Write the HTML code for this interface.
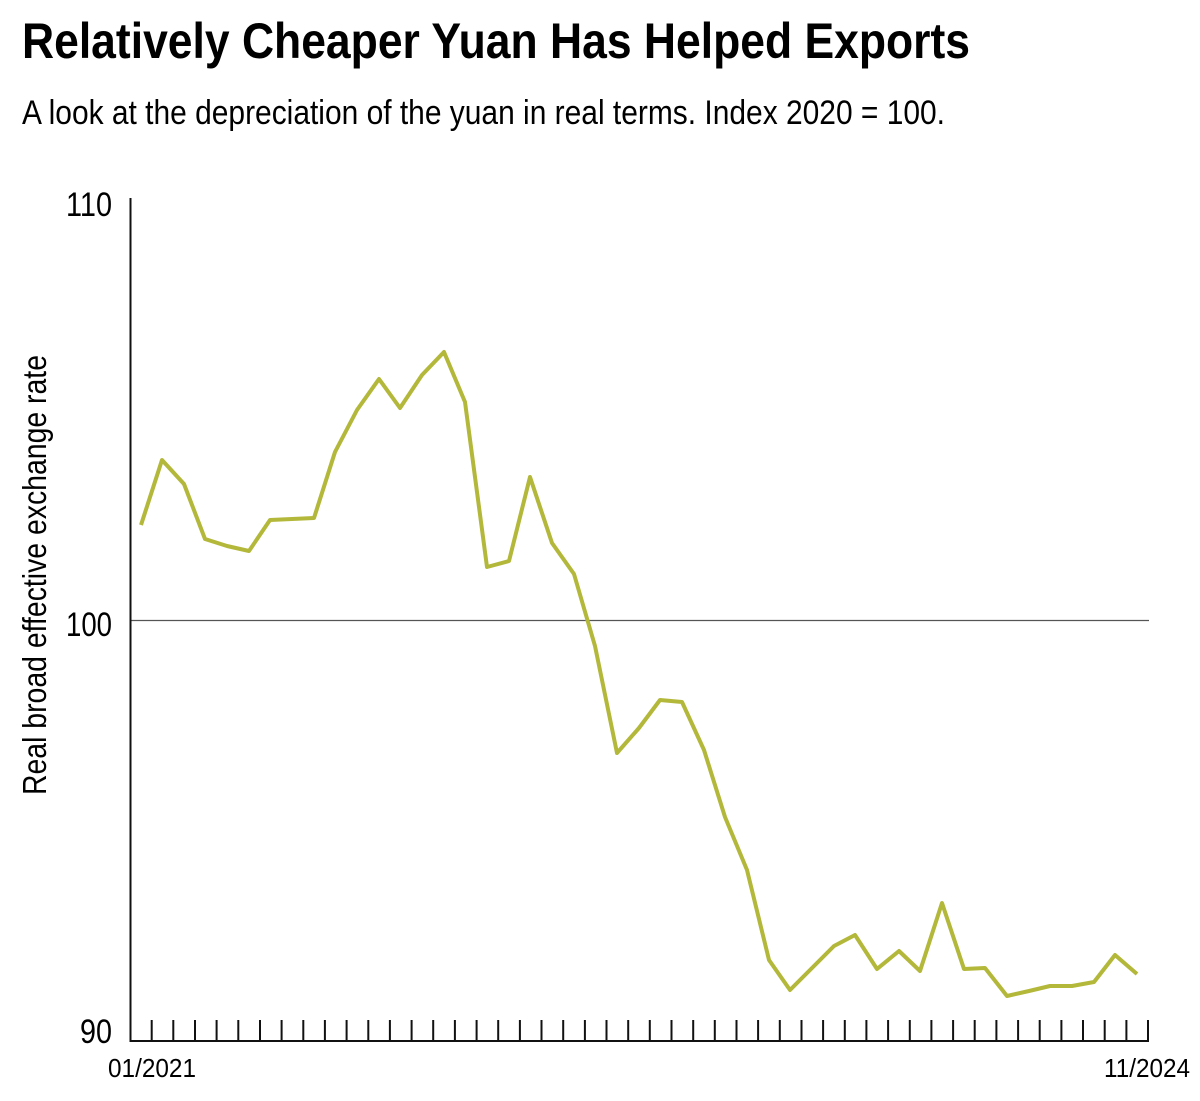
<!DOCTYPE html>
<html><head><style>body{margin:0;background:#fff}svg{display:block}</style></head><body>
<svg width="1200" height="1101" viewBox="0 0 1200 1101" xmlns="http://www.w3.org/2000/svg" font-family="'Liberation Sans', sans-serif">
<text x="22" y="58" font-size="50" font-weight="bold" textLength="948" lengthAdjust="spacingAndGlyphs">Relatively Cheaper Yuan Has Helped Exports</text>
<text x="22" y="124" font-size="34" textLength="923" lengthAdjust="spacingAndGlyphs">A look at the depreciation of the yuan in real terms. Index 2020 = 100.</text>
<line x1="130" y1="620.5" x2="1149" y2="620.5" stroke="#555" stroke-width="1.2"/>
<line x1="130.5" y1="198" x2="130.5" y2="1042" stroke="#111" stroke-width="2"/>
<line x1="130" y1="1041" x2="1149" y2="1041" stroke="#111" stroke-width="2"/>
<g stroke="#111" stroke-width="2" id="ticks"></g>
<text x="112" y="216" font-size="34" text-anchor="end" textLength="46" lengthAdjust="spacingAndGlyphs">110</text>
<text x="112" y="636" font-size="34" text-anchor="end" textLength="46" lengthAdjust="spacingAndGlyphs">100</text>
<text x="112" y="1043" font-size="34" text-anchor="end" textLength="32" lengthAdjust="spacingAndGlyphs">90</text>
<text x="108" y="1077" font-size="26" textLength="88" lengthAdjust="spacingAndGlyphs">01/2021</text>
<text x="1104" y="1077" font-size="26" textLength="86" lengthAdjust="spacingAndGlyphs">11/2024</text>
<text transform="translate(46,795) rotate(-90)" font-size="33" textLength="440" lengthAdjust="spacingAndGlyphs">Real broad effective exchange rate</text>
<polyline fill="none" stroke="#b3b83a" stroke-width="4" stroke-linejoin="round" points="141,525 162,460 184,484 205,539 227,546 249,551 270,520 292,519 314,518 335,452 357,410 379,379 400,408 422,375 444,352 465,402 487,567 509,561 530,477 552,543 574,574 595,646 617,753 639,728 660,700 682,702 704,750 725,817 747,870 769,960 790,990 812,968 834,946 855,935 877,969 899,951 920,971 942,903 964,969 985,968 1007,996 1029,991 1050,986 1072,986 1094,982 1115,955 1137,974"/>
<path stroke="#111" stroke-width="2" d="M151.7 1020V1041M173.3 1020V1041M195 1020V1041M216.6 1020V1041M238.3 1020V1041M260 1020V1041M281.6 1020V1041M303.3 1020V1041M324.9 1020V1041M346.6 1020V1041M368.3 1020V1041M389.9 1020V1041M411.6 1020V1041M433.2 1020V1041M454.9 1020V1041M476.6 1020V1041M498.2 1020V1041M519.9 1020V1041M541.5 1020V1041M563.2 1020V1041M584.9 1020V1041M606.5 1020V1041M628.2 1020V1041M649.8 1020V1041M671.5 1020V1041M693.2 1020V1041M714.8 1020V1041M736.5 1020V1041M758.1 1020V1041M779.8 1020V1041M801.5 1020V1041M823.1 1020V1041M844.8 1020V1041M866.4 1020V1041M888.1 1020V1041M909.8 1020V1041M931.4 1020V1041M953.1 1020V1041M974.7 1020V1041M996.4 1020V1041M1018.1 1020V1041M1039.7 1020V1041M1061.4 1020V1041M1083 1020V1041M1104.7 1020V1041M1126.4 1020V1041M1148 1020V1041"/>
</svg>
</body></html>
